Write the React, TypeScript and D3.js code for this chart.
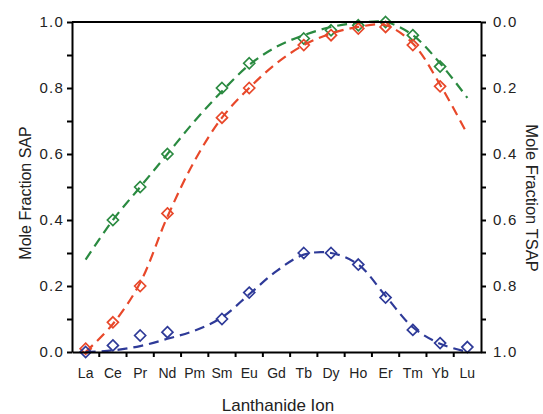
import { useEffect, useRef } from 'react';
import * as d3 from 'd3';

const ions = ['La', 'Ce', 'Pr', 'Nd', 'Pm', 'Sm', 'Eu', 'Gd', 'Tb', 'Dy', 'Ho', 'Er', 'Tm', 'Yb', 'Lu'];

// measured points (null = no marker)
const greenPts = [null, 0.40, 0.50, 0.60, null, 0.80, 0.875, null, 0.95, 0.975, 0.99, 1.0, 0.96, 0.865, null];
const redPts = [0.01, 0.09, 0.20, 0.42, null, 0.71, 0.80, null, 0.93, 0.96, 0.98, 0.985, 0.93, 0.805, null];
const bluePts = [0.0, 0.02, 0.05, 0.06, null, 0.10, 0.18, null, 0.30, 0.30, 0.265, 0.165, 0.067, 0.027, 0.015];

// fitted curves read at each ion
const greenFit = [0.28, 0.40, 0.50, 0.60, 0.70, 0.79, 0.87, 0.925, 0.96, 0.985, 0.997, 1.0, 0.96, 0.875, 0.77];
const redFit = [0.0, 0.085, 0.21, 0.41, 0.58, 0.71, 0.80, 0.875, 0.93, 0.965, 0.985, 0.99, 0.935, 0.81, 0.66];
const blueFit = [0.0, 0.005, 0.018, 0.04, 0.065, 0.105, 0.175, 0.245, 0.295, 0.30, 0.265, 0.17, 0.075, 0.025, 0.0];

const leftTicks = [0, 0.2, 0.4, 0.6, 0.8, 1.0];
const minorTicks = [0.1, 0.3, 0.5, 0.7, 0.9];

const series = [
  { pts: greenPts, fit: greenFit, color: '#2a8a40' },
  { pts: redPts, fit: redFit, color: '#e8482a' },
  { pts: bluePts, fit: blueFit, color: '#2e3a98' },
];

const App = () => {
  const svgRef = useRef<SVGSVGElement>(null);

  useEffect(() => {
    const svg = d3.select(svgRef.current);
    svg.selectAll('*').remove();

    const left = 72, right = 481, top = 22, bottom = 352;
    const font = '"Liberation Sans", Arial, sans-serif';
    const textColor = '#222';

    const x = d3.scaleBand().domain(ions).range([left, right]).padding(0);
    const cx = (d: string) => (x(d) as number) + x.bandwidth() / 2;
    const y = d3.scaleLinear().domain([0, 1]).range([bottom, top]);
    const y2 = d3.scaleLinear().domain([0, 1]).range([top, bottom]);

    // curves
    series.forEach(s => {
      const line = d3.line<number>()
        .x((_, i) => cx(ions[i]))
        .y(d => y(d))
        .curve(d3.curveCatmullRom.alpha(0.5));
      svg.append('path')
        .attr('d', line(s.fit))
        .attr('fill', 'none')
        .attr('stroke', s.color)
        .attr('stroke-width', 2.2)
        .attr('stroke-dasharray', '10,6');

      s.pts.forEach((v, i) => {
        if (v === null) return;
        const px = cx(ions[i]);
        const py = y(v);
        const r = 5.5;
        svg.append('path')
          .attr('d', `M${px},${py - r}L${px + r},${py}L${px},${py + r}L${px - r},${py}Z`)
          .attr('fill', 'none')
          .attr('stroke', s.color)
          .attr('stroke-width', 1.7);
      });
    });

    // left axis
    const gl = svg.append('g').attr('transform', `translate(${left},0)`);
    gl.call(d3.axisLeft(y).tickValues(leftTicks).tickFormat(d3.format('.1f')).tickSize(5).tickSizeOuter(0));
    gl.call(g => g.append('g').call(d3.axisLeft(y).tickValues(minorTicks).tickFormat(() => '').tickSize(5).tickSizeOuter(0))
      .select('.domain').remove());

    // right axis
    const gr = svg.append('g').attr('transform', `translate(${right},0)`);
    gr.call(d3.axisRight(y2).tickValues(leftTicks).tickFormat(d3.format('.1f')).tickSize(5).tickSizeOuter(0));
    gr.call(g => g.append('g').call(d3.axisRight(y2).tickValues(minorTicks).tickFormat(() => '').tickSize(5).tickSizeOuter(0))
      .select('.domain').remove());

    // bottom axis: labels at centers, ticks at band edges
    const gb = svg.append('g').attr('transform', `translate(0,${bottom})`);
    gb.call(d3.axisBottom(x).tickSize(0).tickPadding(16).tickSizeOuter(0));
    gb.selectAll('.tick')
      .append('line')
      .attr('x1', x.bandwidth() / 2)
      .attr('x2', x.bandwidth() / 2)
      .attr('y2', 5)
      .filter((_, i) => i === ions.length - 1)
      .remove();

    // top frame
    svg.append('line')
      .attr('x1', left).attr('x2', right)
      .attr('y1', top).attr('y2', top)
      .attr('stroke', '#000').attr('stroke-width', 2);

    svg.selectAll('.domain').attr('stroke', '#000').attr('stroke-width', 2);
    svg.selectAll('.tick line').attr('stroke', '#000').attr('stroke-width', 2);
    svg.selectAll('.tick text')
      .attr('font-family', font)
      .attr('font-size', 14)
      .attr('fill', textColor);
    gl.selectAll('.tick text').attr('x', -8).attr('font-size', 15).attr('letter-spacing', 1.2);
    gr.selectAll('.tick text').attr('x', 12).attr('font-size', 15).attr('letter-spacing', 1.2);

    // titles
    svg.append('text')
      .attr('x', 278).attr('y', 411)
      .attr('text-anchor', 'middle')
      .attr('font-family', font).attr('font-size', 17).attr('fill', textColor)
      .text('Lanthanide Ion');

    svg.append('text')
      .attr('transform', 'translate(31,193) rotate(-90)')
      .attr('text-anchor', 'middle')
      .attr('font-family', font).attr('font-size', 16).attr('fill', textColor)
      .text('Mole Fraction SAP');

    svg.append('text')
      .attr('transform', 'translate(526,198) rotate(90)')
      .attr('text-anchor', 'middle')
      .attr('font-family', font).attr('font-size', 16.5).attr('fill', textColor)
      .text('Mole Fraction TSAP');
  }, []);

  return (
    <svg ref={svgRef} width={543} height={414}
      style={{ position: 'absolute', left: 0, top: 0, background: '#fff' }} />
  );
};

export default App;
